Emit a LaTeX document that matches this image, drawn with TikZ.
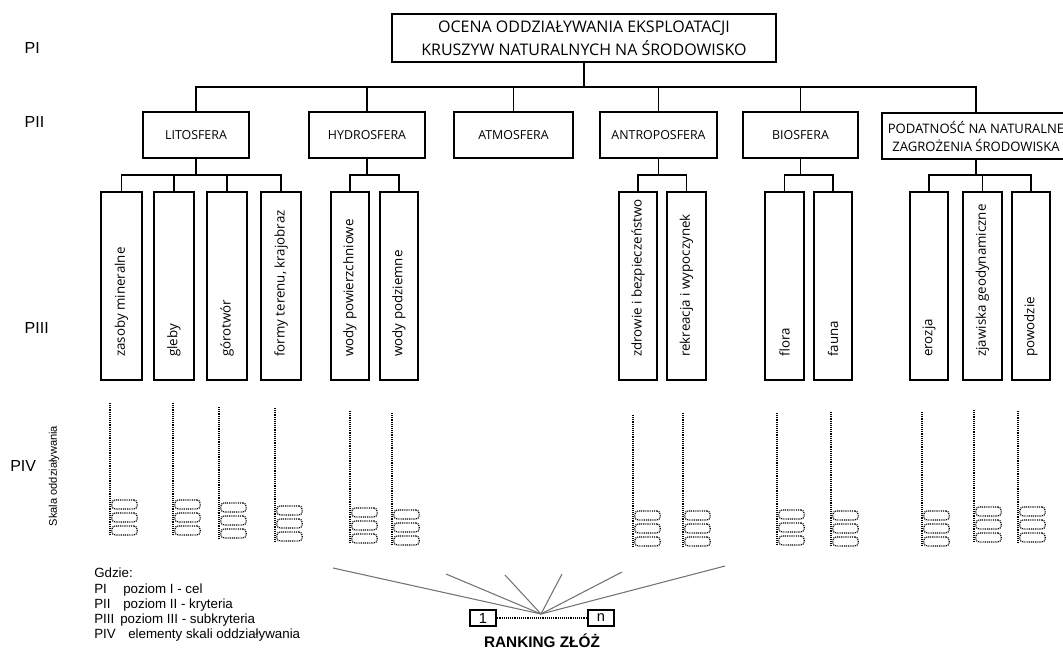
\documentclass[tikz,border=0pt]{standalone}
\usepackage{fontspec}
\setmainfont{Liberation Sans}
\newfontfamily\segfont{Open Sans}
\newcommand\skalael[4]{% name, x, top, bottom
  \draw[scaleline] (#2,#3) -- (#2,#4);
  \node[skbox] (#1a) at (#2+14.5,#4-30.5) {};
  \node[skbox] (#1b) at (#2+14.5,#4-17.5) {};
  \node[skbox] (#1c) at (#2+14.5,#4-4.5) {};
}
\newcommand\subcrit[4]{% name, x, width(pt), text
  \node[subbox,minimum width=#3] (#1) at (#2,286) {};
  \node[sublabel] (#1T) at (#2,357) {#4};
}
\begin{document}
\begin{tikzpicture}[x=0.75pt,y=-0.75pt,
  topbox/.style={draw,line width=1.3pt,inner sep=0pt,align=center,
    minimum width=288pt,minimum height=36pt,
    font=\segfont\fontsize{12}{17}\selectfont},
  critbox/.style={draw,line width=1.3pt,inner sep=0pt,align=center,
    minimum height=34.5pt,font=\segfont\fontsize{9.3}{13}\selectfont},
  subbox/.style={draw,line width=1.3pt,inner sep=0pt,minimum height=141pt},
  sublabel/.style={rotate=90,anchor=west,inner sep=0pt,
    font=\segfont\fontsize{10}{12}\selectfont},
  conn/.style={line width=1.2pt},
  lvl/.style={anchor=west,font=\fontsize{12}{14}\selectfont},
  leg/.style={anchor=base west,inner sep=0pt,font=\fontsize{10}{12}\selectfont},
  scaleline/.style={line width=1.1pt,dash pattern=on 0.7pt off 0.7pt},
  skbox/.style={draw,line width=0.9pt,dash pattern=on 0.7pt off 0.7pt,rounded corners=2.5pt,
    minimum width=19pt,minimum height=6.8pt,inner sep=0pt},
  fan/.style={draw=black!55,line width=0.8pt},
  rbox/.style={draw,line width=1.1pt,minimum width=19.5pt,minimum height=12pt,inner sep=0pt,
    font=\fontsize{11}{12}\selectfont}]
\useasboundingbox (0,0) rectangle (1063,650);
\clip (0,0) rectangle (1063,650);

% level labels
\node[lvl] (lI) at (20,48) {PI};
\node[lvl] (lII) at (20,122) {PII};
\node[lvl] (lIII) at (20,328) {PIII};
\node[lvl,inner sep=0pt] (lIV) at (10,466) {PIV};
\node[rotate=90,inner sep=0pt,font=\fontsize{8.3}{9}\selectfont] (skala) at (54,476) {Skala oddziaływania};

% PI
\node[topbox] (top) at (584,38) {OCENA ODDZIAŁYWANIA EKSPLOATACJI\\KRUSZYW NATURALNYCH NA ŚRODOWISKO};

% PII
\node[critbox,minimum width=79.5pt] (lito) at (196,135) {LITOSFERA};
\node[critbox,minimum width=87pt] (hydro) at (367,135) {HYDROSFERA};
\node[critbox,minimum width=89.25pt] (atmo) at (513.5,135) {ATMOSFERA};
\node[critbox,minimum width=87.75pt] (antro) at (658.5,135) {ANTROPOSFERA};
\node[critbox,minimum width=86.25pt] (bio) at (800.5,135) {BIOSFERA};
\node[critbox,minimum width=141pt,font=\segfont\fontsize{9.8}{13.5}\selectfont] (podat) at (976,136) {PODATNOŚĆ NA NATURALNE\\ZAGROŻENIA ŚRODOWISKA};

\coordinate (bus) at (584,87);
\foreach \c in {lito,hydro,atmo,antro,bio,podat}
  \draw[conn] (top.south) -- (bus) -| (\c.north);

% PIII
\subcrit{zas}{121.5}{30.75pt}{zasoby mineralne}
\subcrit{gle}{174}{30pt}{gleby}
\subcrit{gor}{227}{30pt}{górotwór}
\subcrit{for}{281}{30pt}{formy terenu, krajobraz}
\subcrit{wpo}{350}{28.5pt}{wody powierzchniowe}
\subcrit{wpd}{399}{28.5pt}{wody podziemne}
\subcrit{zdr}{638}{28.5pt}{zdrowie i bezpieczeństwo}
\subcrit{rek}{686.5}{29.25pt}{rekreacja i wypoczynek}
\subcrit{flo}{784.5}{29.25pt}{flora}
\subcrit{fau}{833}{28.5pt}{fauna}
\subcrit{ero}{929}{28.5pt}{erozja}
\subcrit{zja}{982.5}{29.25pt}{zjawiska geodynamiczne}
\subcrit{pow}{1031}{28.5pt}{powodzie}

\coordinate (sb) at (0,175);
\foreach \c in {zas,gle,gor,for} \draw[conn] (lito.south) -- (lito.south |- sb) -| (\c.north);
\foreach \c in {wpo,wpd} \draw[conn] (hydro.south) -- (hydro.south |- sb) -| (\c.north);
\foreach \c in {zdr,rek} \draw[conn] (antro.south) -- (antro.south |- sb) -| (\c.north);
\foreach \c in {flo,fau} \draw[conn] (bio.south) -- (bio.south |- sb) -| (\c.north);
\foreach \c in {ero,zja,pow} \draw[conn] (podat.south) -- (podat.south |- sb) -| (\c.north);

% PIV scale elements
\skalael{s1}{110}{403}{535}
\skalael{s2}{173}{403}{535}
\skalael{s3}{219}{407}{538}
\skalael{s4}{275}{408}{541}
\skalael{s5}{350}{411}{543}
\skalael{s6}{392}{413}{545}
\skalael{s7}{633}{415}{546}
\skalael{s8}{683}{413}{546}
\skalael{s9}{777}{413}{545}
\skalael{s10}{831}{412}{546}
\skalael{s11}{922}{412}{546}
\skalael{s12}{974}{410}{542}
\skalael{s13}{1018}{411}{542}

% legend
\node[leg] (g0) at (94,577) {Gdzie:};
\node[leg] (g1a) at (94,593) {PI};
\node[leg] (g1b) at (123,593) {poziom I - cel};
\node[leg] (g2a) at (94,608) {PII};
\node[leg] (g2b) at (123,608) {poziom II - kryteria};
\node[leg] (g3a) at (94,623) {PIII};
\node[leg] (g3b) at (120,623) {poziom III - subkryteria};
\node[leg] (g4a) at (94,638) {PIV};
\node[leg] (g4b) at (128,638) {elementy skali oddziaływania};

% ranking
\node[rbox] (one) at (483,618) {1};
\node[rbox] (nn) at (601,618) {n};
\draw[scaleline,line width=1pt] (one.east) -- (nn.west);
\coordinate (apex) at (541,614);
\coordinate (f1) at (333,568);
\coordinate (f2) at (446,574);
\coordinate (f3) at (505,575);
\coordinate (f4) at (562,574);
\coordinate (f5) at (622,572);
\coordinate (f6) at (725,566);
\foreach \f in {f1,f2,f3,f4,f5,f6} \draw[fan] (\f) -- (apex);
\node[anchor=base,inner sep=0pt,font=\bfseries\fontsize{11.5}{13}\selectfont] (rank) at (542,647) {RANKING ZŁÓŻ};
\end{tikzpicture}
\end{document}
